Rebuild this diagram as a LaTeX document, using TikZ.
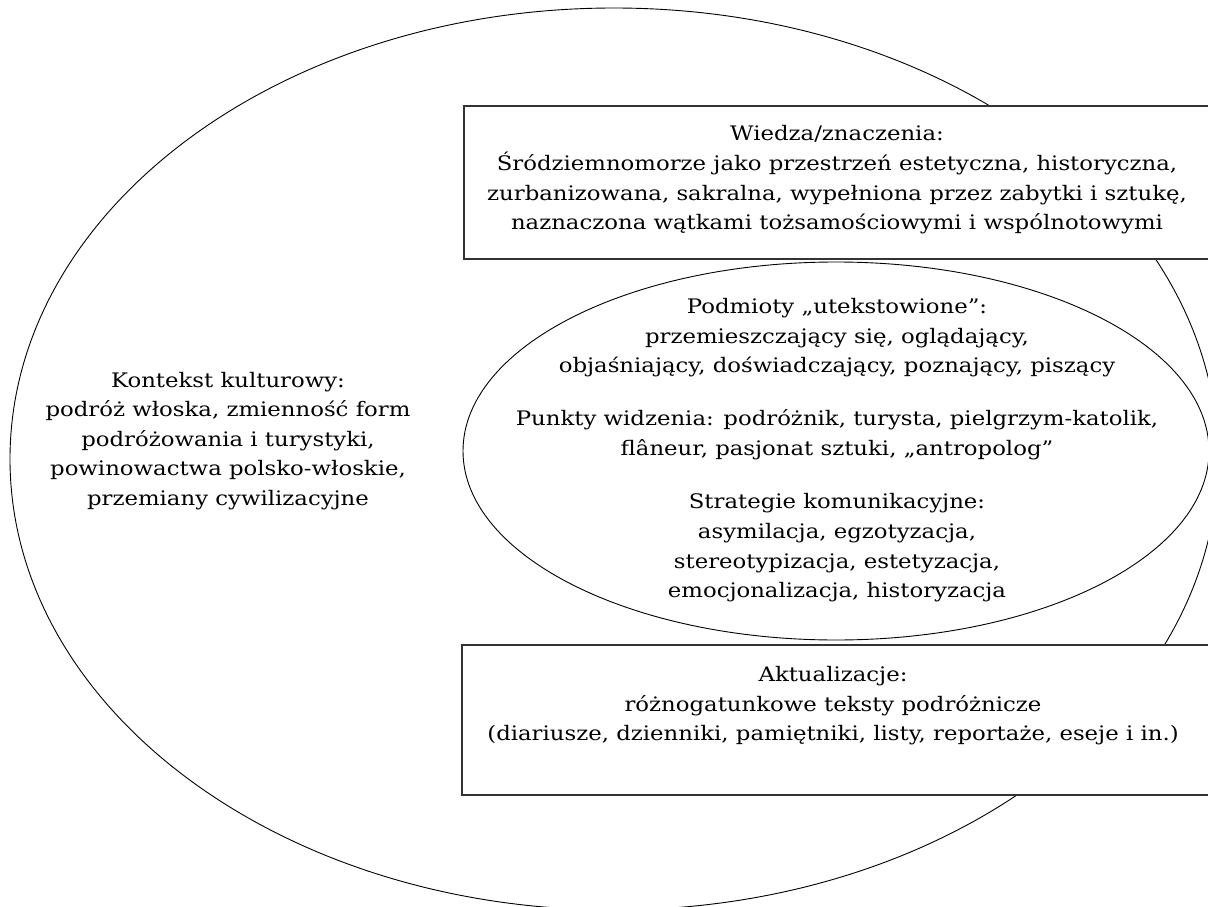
\documentclass[tikz,border=0pt]{standalone}
\usepackage{fontspec}
\setmainfont{DejaVu Serif}[FakeStretch=1.14]
\usetikzlibrary{shapes.geometric}
\begin{document}
\begin{tikzpicture}[x=1pt,y=-1pt,
  ellline/.style={ellipse, draw=black, line width=0.9pt, inner sep=0pt},
  boxstyle/.style={rectangle, draw=black!80, line width=1.3pt, fill=white, inner sep=0pt},
  txt/.style={align=center, font=\fontsize{20}{29.6}\selectfont, inner sep=0pt, text=black}]
\useasboundingbox (0,0) rectangle (1208,907);
\clip (0,0) rectangle (1208,907);
\fill[white] (0,0) rectangle (1208,907);
% outer ellipse: cultural context
\node[ellline, minimum width=1208pt, minimum height=902pt] (ctx) at (614,459) {};
% boxes
\node[boxstyle, minimum width=751pt, minimum height=153pt] (know) at (839.5,182.5) {};
\node[boxstyle, minimum width=753pt, minimum height=150pt] (act) at (838.5,720) {};
% inner ellipse
\node[ellline, minimum width=746pt, minimum height=378pt] (subj) at (836,451) {};
% texts
\node[txt] (ctxtext) at (228,441) {Kontekst kulturowy:\\podróż włoska, zmienność form\\podróżowania i turystyki,\\powinowactwa polsko-włoskie,\\przemiany cywilizacyjne};
\node[txt] (knowtext) at (837,180) {Wiedza/znaczenia:\\Śródziemnomorze jako przestrzeń estetyczna, historyczna,\\zurbanizowana, sakralna, wypełniona przez zabytki i sztukę,\\naznaczona wątkami tożsamościowymi i wspólnotowymi};
\node[txt] (subjtext) at (837,338) {Podmioty „utekstowione”:\\przemieszczający się, oglądający,\\objaśniający, doświadczający, poznający, piszący};
\node[txt] (viewtext) at (837,435) {Punkty widzenia: podróżnik, turysta, pielgrzym-katolik,\\flâneur, pasjonat sztuki, „antropolog”};
\node[txt] (strattext) at (837,548) {Strategie komunikacyjne:\\asymilacja, egzotyzacja,\\stereotypizacja, estetyzacja,\\emocjonalizacja, historyzacja};
\node[txt] (acttext) at (833,706) {Aktualizacje:\\różnogatunkowe teksty podróżnicze\\(diariusze, dzienniki, pamiętniki, listy, reportaże, eseje i in.)};
\end{tikzpicture}
\end{document}
